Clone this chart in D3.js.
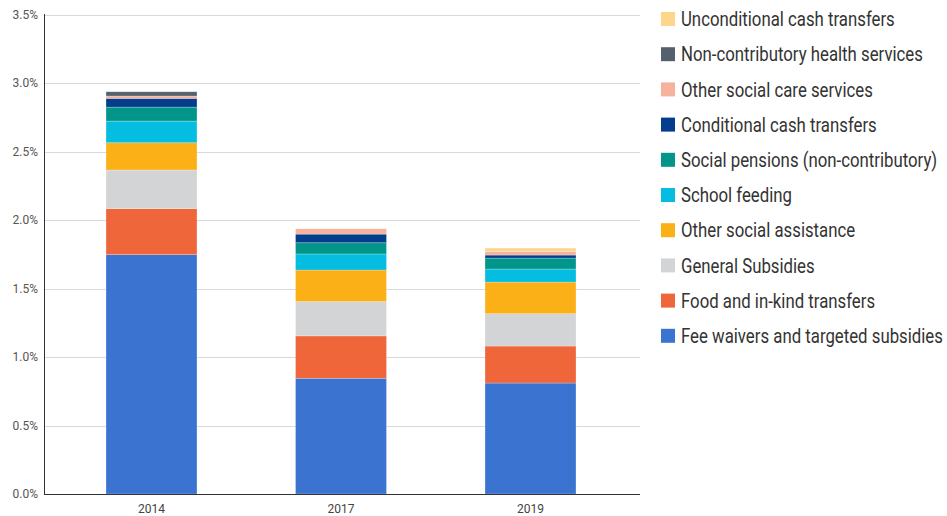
<!DOCTYPE html>
<html>
<head>
<meta charset="utf-8">
<script src="https://cdn.jsdelivr.net/npm/d3@7"></script>
<style>
  body { margin: 0; background: #fff; }
</style>
</head>
<body>
<div id="chart"></div>
<script>
// data (percent of GDP)
const years = ["2014", "2017", "2019"];
const programs = [
    "Fee waivers and targeted subsidies",
    "Food and in-kind transfers",
    "General Subsidies",
    "Other social assistance",
    "School feeding",
    "Social pensions (non-contributory)",
    "Conditional cash transfers",
    "Other social care services",
    "Non-contributory health services",
    "Unconditional cash transfers"
];
const feeWaivers = [1.747, 0.845, 0.810];
const foodInKind = [0.336, 0.309, 0.270];
const generalSubsidies = [0.282, 0.250, 0.236];
const otherAssistance = [0.199, 0.231, 0.231];
const schoolFeeding = [0.158, 0.117, 0.095];
const socialPensions = [0.102, 0.082, 0.080];
const conditionalCash = [0.064, 0.063, 0.022];
const otherCare = [0.017, 0.039, 0.027];
const healthServices = [0.031, 0.000, 0.000];
const unconditionalCash = [0.000, 0.000, 0.024];
const yTicks = [0, 0.5, 1.0, 1.5, 2.0, 2.5, 3.0, 3.5];

const colors = ["#3a73d0", "#f0663b", "#d3d4d6", "#fbb018", "#04bde0",
    "#02968a", "#033d8c", "#f7b29e", "#54616c", "#fdd58b"];

const seriesValues = [feeWaivers, foodInKind, generalSubsidies, otherAssistance,
    schoolFeeding, socialPensions, conditionalCash, otherCare, healthServices, unconditionalCash];

// build table for stacking
const table = years.map((y, i) => {
    const row = { year: y };
    programs.forEach((p, j) => { row[p] = seriesValues[j][i]; });
    return row;
});

const width = 947, height = 516;
const svg = d3.select("#chart").append("svg")
    .attr("width", width)
    .attr("height", height);

const x = d3.scaleBand()
    .domain(years)
    .range([56.75, 625.25])
    .paddingInner(0.52)
    .paddingOuter(0.26);

const y = d3.scaleLinear()
    .domain([0, 3.5])
    .range([494, 14.5]);

const color = d3.scaleOrdinal().domain(programs).range(colors);

// grid lines
svg.append("g")
    .selectAll("line")
    .data(yTicks)
    .join("line")
    .attr("x1", 44)
    .attr("x2", 640)
    .attr("y1", d => Math.round(y(d)) + 0.5)
    .attr("y2", d => Math.round(y(d)) + 0.5)
    .attr("stroke", "#d9d9d9")
    .attr("stroke-width", 1);

// y labels
svg.append("g")
    .selectAll("text")
    .data(yTicks)
    .join("text")
    .attr("x", 38)
    .attr("y", d => y(d))
    .attr("dy", "0.35em")
    .attr("text-anchor", "end")
    .attr("font-family", "Roboto, sans-serif")
    .attr("font-size", "12px")
    .attr("fill", "#555")
    .text(d => d.toFixed(1) + "%");

// stacked bars
const stack = d3.stack().keys(programs);
const layers = stack(table);

svg.append("g")
    .selectAll("g")
    .data(layers)
    .join("g")
    .attr("fill", d => color(d.key))
    .selectAll("rect")
    .data(d => d.filter(s => s[1] - s[0] > 0))
    .join("rect")
    .attr("x", d => x(d.data.year))
    .attr("width", x.bandwidth())
    .attr("y", d => y(d[1]))
    .attr("height", d => y(d[0]) - y(d[1]))
    .attr("stroke", "#fff")
    .attr("stroke-opacity", 0.35)
    .attr("stroke-width", 0.7);

// axes lines
svg.append("line")
    .attr("x1", 44.5).attr("x2", 44.5)
    .attr("y1", 14).attr("y2", 494)
    .attr("stroke", "#333")
    .attr("stroke-width", 1);

svg.append("line")
    .attr("x1", 44).attr("x2", 640)
    .attr("y1", 494.5).attr("y2", 494.5)
    .attr("stroke", "#333")
    .attr("stroke-width", 1.2);

// x labels
svg.append("g")
    .selectAll("text")
    .data(years)
    .join("text")
    .attr("x", d => x(d) + x.bandwidth() / 2)
    .attr("y", 513)
    .attr("text-anchor", "middle")
    .attr("font-family", "Roboto, sans-serif")
    .attr("font-size", "12px")
    .attr("fill", "#444")
    .text(d => d);

// legend (top item = last series)
const legendItems = programs.slice().reverse();
const legend = svg.append("g");
const rows = legend.selectAll("g")
    .data(legendItems)
    .join("g")
    .attr("transform", (d, i) => `translate(661, ${19 + i * 35.2})`);

rows.append("rect")
    .attr("x", 0)
    .attr("y", -7)
    .attr("width", 14)
    .attr("height", 14)
    .attr("fill", d => color(d));

const labels = rows.append("text")
    .attr("x", 20)
    .attr("dy", "0.36em")
    .attr("font-family", "Roboto, sans-serif")
    .attr("font-size", "20px")
    .attr("fill", "#333")
    .text(d => d);

// squeeze legend text to the narrow face of the original
const longest = labels.filter(d => d === "Fee waivers and targeted subsidies").node().getComputedTextLength();
const k = 262 / longest;
labels.attr("transform", `translate(20,0) scale(${k},1) translate(-20,0)`);
</script>
</body>
</html>
